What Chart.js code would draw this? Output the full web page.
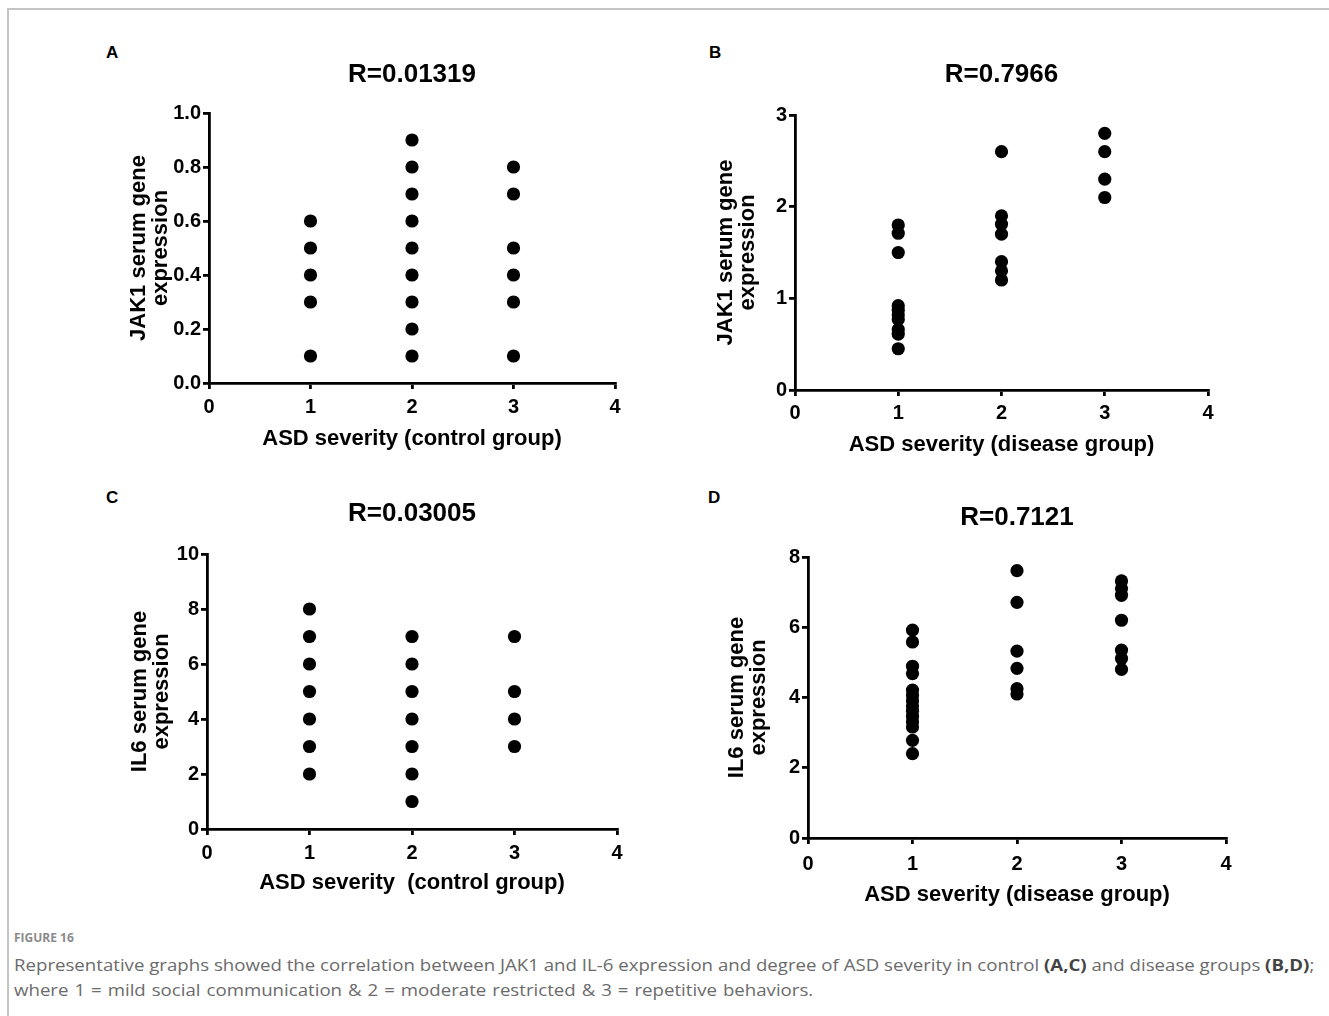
<!DOCTYPE html>
<html>
<head>
<meta charset="utf-8">
<script src="https://cdn.jsdelivr.net/npm/chart.js@4.4.0/dist/chart.umd.min.js"></script>
<style>
  html, body { margin: 0; padding: 0; background: #fff; }
  body { width: 1329px; height: 1016px; position: relative; overflow: hidden; font-family: "Liberation Sans", Arial, sans-serif; }
  .frame { position: absolute; left: 7px; top: 8px; right: -2px; bottom: -2px; border-top: 2px solid #c4c4c4; border-left: 2px solid #c4c4c4; }
  canvas { position: absolute; }
  .tag { position: absolute; font-weight: bold; font-size: 17px; color: #000; line-height: 1; }
  .caption { position: absolute; left: 14px; color: #6b6b6b; font-family: "Open Sans", sans-serif; white-space: nowrap; transform-origin: 0 0; }
  .caption b { color: #444; }
</style>
</head>
<body>
<div class="frame"></div>

<div class="tag" style="left:106px; top:44px;">A</div>
<div class="tag" style="left:709px; top:44px;">B</div>
<div class="tag" style="left:106px; top:489px;">C</div>
<div class="tag" style="left:708px; top:489px;">D</div>

<canvas id="chartA" width="560" height="420" style="left:100px; top:40px;"></canvas>
<canvas id="chartB" width="560" height="420" style="left:700px; top:40px;"></canvas>
<canvas id="chartC" width="560" height="420" style="left:100px; top:480px;"></canvas>
<canvas id="chartD" width="560" height="430" style="left:700px; top:480px;"></canvas>

<div class="caption" style="top:929px; font-size:12px; font-weight:bold; color:#8a8a8a;">FIGURE 16</div>
<div class="caption" style="top:953px; font-size:16.5px; transform: scaleX(1.13);">Representative graphs showed the correlation between JAK1 and IL-6 expression and degree of ASD severity in control <b>(A,C)</b> and disease groups <b>(B,D)</b>;</div>
<div class="caption" style="top:978px; font-size:16.5px; word-spacing:1px; transform: scaleX(1.13);">where 1 = mild social communication &amp; 2 = moderate restricted &amp; 3 = repetitive behaviors.</div>

<script>
// A: JAK1, control group
const jak1ControlSev1 = [0.6, 0.5, 0.4, 0.3, 0.1];
const jak1ControlSev2 = [0.9, 0.8, 0.7, 0.6, 0.5, 0.4, 0.3, 0.2, 0.1];
const jak1ControlSev3 = [0.8, 0.7, 0.5, 0.4, 0.3, 0.1];

// B: JAK1, disease group
const jak1DiseaseSev1 = [1.8, 1.71, 1.5, 0.92, 0.87, 0.82, 0.77, 0.66, 0.61, 0.45];
const jak1DiseaseSev2 = [2.6, 1.9, 1.81, 1.7, 1.4, 1.3, 1.2];
const jak1DiseaseSev3 = [2.8, 2.6, 2.3, 2.1];

// C: IL6, control group
const il6ControlSev1 = [8, 7, 6, 5, 4, 3, 2];
const il6ControlSev2 = [7, 6, 5, 4, 3, 2, 1];
const il6ControlSev3 = [7, 5, 4, 3];

// D: IL6, disease group
const il6DiseaseSev1 = [5.92, 5.58, 4.89, 4.68, 4.21, 4.06, 3.91, 3.76, 3.61, 3.46, 3.31, 3.16, 2.78, 2.4];
const il6DiseaseSev2 = [7.61, 6.71, 5.32, 4.83, 4.25, 4.1];
const il6DiseaseSev3 = [7.32, 7.1, 6.91, 6.2, 5.35, 5.11, 4.8];

const severityTicks = [0, 1, 2, 3, 4];

const FONT = '"Liberation Sans", Arial, sans-serif';

function toPoints(groups) {
    const pts = [];
    groups.forEach((vals, i) => {
        vals.forEach(v => pts.push({ x: i + 1, y: v }));
    });
    return pts;
}

function makePanel(id, cfg) {
    return new Chart(document.getElementById(id), {
        type: 'scatter',
        data: {
            datasets: [{
                data: toPoints(cfg.groups),
                backgroundColor: '#000',
                borderWidth: 0,
                pointRadius: 6.6,
                pointHoverRadius: 6.6,
                clip: false
            }]
        },
        options: {
            responsive: false,
            animation: false,
            layout: { padding: { left: 0, right: cfg.padRight, top: 0, bottom: 0 } },
            plugins: {
                legend: { display: false },
                tooltip: { enabled: false },
                title: {
                    display: true,
                    text: cfg.title,
                    fullSize: false,
                    color: '#000',
                    font: { family: FONT, size: 26, weight: 'bold', lineHeight: 1.2 },
                    padding: { top: cfg.titleTop, bottom: cfg.titleBottom }
                }
            },
            scales: {
                x: {
                    type: 'linear',
                    min: 0,
                    max: 4,
                    afterBuildTicks: s => { s.ticks = severityTicks.map(v => ({ value: v })); },
                    afterFit: s => { s.height = cfg.xHeight; },
                    border: { display: true, color: '#000', width: 2.8 },
                    grid: { drawOnChartArea: false, drawTicks: true, tickLength: 6, color: '#000', lineWidth: 2.8 },
                    ticks: { color: '#000', padding: cfg.xTickPad, font: { family: FONT, size: 20, weight: 'bold' } },
                    title: {
                        display: true,
                        text: cfg.xTitle,
                        color: '#000',
                        font: { family: FONT, size: 22, weight: 'bold', lineHeight: 1 },
                        padding: { top: 0, bottom: cfg.xTitlePad }
                    }
                },
                y: {
                    type: 'linear',
                    min: 0,
                    max: cfg.yMax,
                    afterBuildTicks: s => { s.ticks = cfg.yTicks.map(v => ({ value: v })); },
                    afterFit: s => { s.width = cfg.yWidth; },
                    border: { display: true, color: '#000', width: 2.8 },
                    grid: { drawOnChartArea: false, drawTicks: true, tickLength: 6, color: '#000', lineWidth: 2.8 },
                    ticks: {
                        color: '#000',
                        padding: 2,
                        font: { family: FONT, size: 20, weight: 'bold' },
                        callback: v => cfg.yFormat(v)
                    },
                    title: {
                        display: true,
                        text: cfg.yTitle,
                        color: '#000',
                        font: { family: FONT, size: 22, weight: 'bold', lineHeight: 1 },
                        padding: { top: cfg.yTitlePad, bottom: 0 }
                    }
                }
            }
        }
    });
}

makePanel('chartA', {
    groups: [jak1ControlSev1, jak1ControlSev2, jak1ControlSev3],
    title: 'R=0.01319',
    titleTop: 19.4, titleBottom: 22.4,
    padRight: 45, yWidth: 109, xHeight: 77,
    xTickPad: 6, xTitlePad: 10,
    xTitle: 'ASD severity (control group)',
    yTitle: ['JAK1 serum gene', 'expression'], yTitlePad: 28,
    yMax: 1, yTicks: [0, 0.2, 0.4, 0.6, 0.8, 1.0],
    yFormat: v => v.toFixed(1)
});

makePanel('chartB', {
    groups: [jak1DiseaseSev1, jak1DiseaseSev2, jak1DiseaseSev3],
    title: 'R=0.7966',
    titleTop: 19.4, titleBottom: 24.4,
    padRight: 52, yWidth: 95, xHeight: 70,
    xTickPad: 5, xTitlePad: 4,
    xTitle: 'ASD severity (disease group)',
    yTitle: ['JAK1 serum gene', 'expression'], yTitlePad: 15,
    yMax: 3, yTicks: [0, 1, 2, 3],
    yFormat: v => String(v)
});

makePanel('chartC', {
    groups: [il6ControlSev1, il6ControlSev2, il6ControlSev3],
    title: 'R=0.03005',
    titleTop: 18.4, titleBottom: 24.4,
    padRight: 43, yWidth: 107, xHeight: 71,
    xTickPad: 6, xTitlePad: 6,
    xTitle: 'ASD severity  (control group)',
    yTitle: ['IL6 serum gene', 'expression'], yTitlePad: 29,
    yMax: 10, yTicks: [0, 2, 4, 6, 8, 10],
    yFormat: v => String(v)
});

makePanel('chartD', {
    groups: [il6DiseaseSev1, il6DiseaseSev2, il6DiseaseSev3],
    title: 'R=0.7121',
    titleTop: 22.4, titleBottom: 23.4,
    padRight: 34, yWidth: 108, xHeight: 72,
    xTickPad: 8, xTitlePad: 4,
    xTitle: 'ASD severity (disease group)',
    yTitle: ['IL6 serum gene', 'expression'], yTitlePad: 26,
    yMax: 8, yTicks: [0, 2, 4, 6, 8],
    yFormat: v => String(v)
});
</script>
</body>
</html>
